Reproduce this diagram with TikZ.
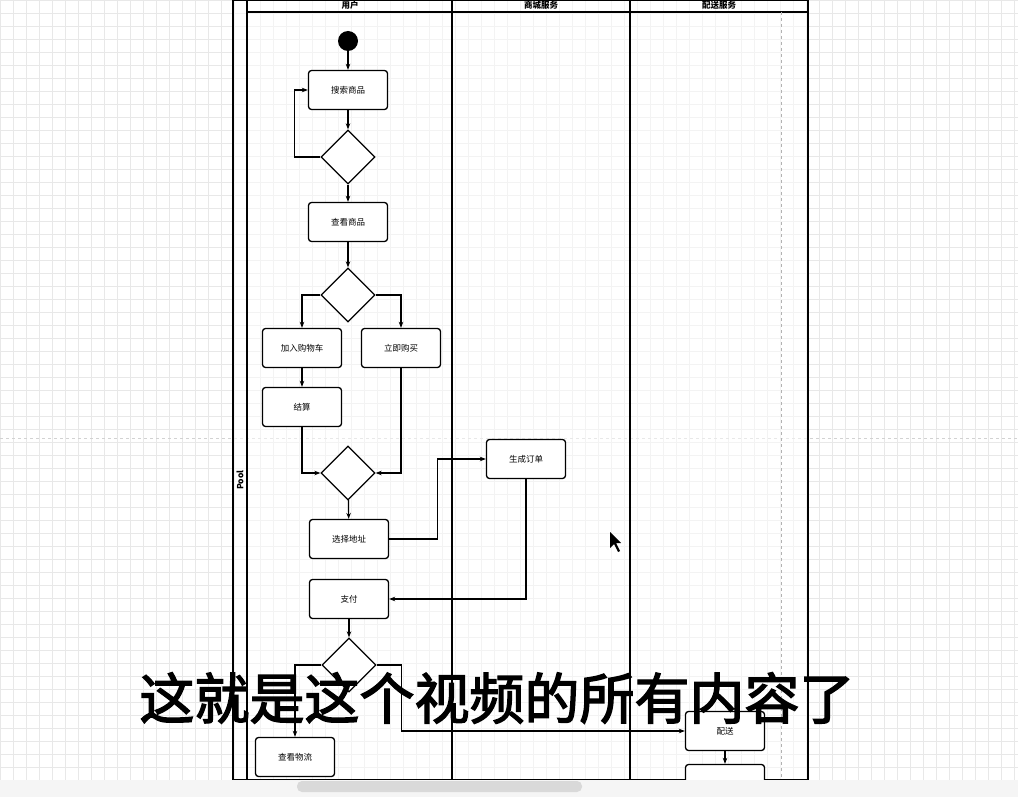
\documentclass[tikz,border=0pt]{standalone}
\usepackage{fontspec}
\newfontfamily\cjk{Noto Sans CJK SC}
\newfontfamily\cjkheavy[FakeBold=2.5]{Noto Sans CJK SC}
\usetikzlibrary{shapes.geometric,arrows.meta}

\tikzset{%
  every act/.style={
    rectangle, rounded corners=3pt, draw, line width=1.3pt, fill=white,
    minimum width=79pt, minimum height=39pt, font=\cjk\fontsize{8.5}{9}\selectfont
  },
  every choice/.style={
    diamond, draw, line width=1.3pt, fill=white, inner sep=0pt,
    minimum width=54pt, minimum height=54pt
  },
  lane title/.style={font=\cjk\bfseries\fontsize{8.5}{9}\selectfont},
  flow/.style={line width=1.2pt, -{Stealth[length=6pt]}},
}

\begin{document}
\begin{tikzpicture}[x=1pt, y=-1pt]
\useasboundingbox (0,0) rectangle (1018,797);
\fill[white] (0,0) rectangle (1018,797);
\draw[gray!18, step=13pt] (0,0) grid (1018,797);
\draw[gray!35, dashed] (0,438) -- (1018,438);

% pool and lanes
\fill[white, opacity=0.5] (233,0) rectangle (808,780);
\draw[line width=1.3pt] (233,0) rectangle (808,780);
\draw[line width=1.3pt] (247,0) -- (247,780);
\draw[line width=1.3pt] (247,12) -- (808,12);
\foreach \x in {452,630}
  \draw[line width=1.3pt] (\x,0) -- (\x,780);
\draw[gray!60, dashed] (781,12) -- (781,780);
\node[lane title, rotate=90] (pool) at (240,480) {Pool};
\foreach \l/\x in {用户/350, 商城服务/541, 配送服务/719}
  \node[lane title] at (\x,5) {\l};

% nodes
\node[circle, fill=black, minimum size=20pt, inner sep=0pt] (start) at (348,41) {};
\node[every act] (search) at (348,90) {搜索商品};
\node[every choice] (c1) at (348,157) {};
\node[every act] (view) at (348,222) {查看商品};
\node[every choice] (c2) at (348,295) {};
\node[every act] (cart) at (302,348) {加入购物车};
\node[every act] (buy) at (401,348) {立即购买};
\node[every act] (settle) at (302,407) {结算};
\node[every choice] (c3) at (348,473) {};
\node[every act] (addr) at (349,539) {选择地址};
\node[every act] (order) at (526,459) {生成订单};
\node[every act] (pay) at (349,599) {支付};
\node[every choice] (c4) at (349,665) {};
\node[every act] (track) at (295,757) {查看物流};
\node[every act] (ship) at (725,731) {配送};
\node[every act] (sign) at (725,784) {};

% connectors
\draw[flow] (start) -- (search);
\draw[flow] (search) -- (c1);
\draw[flow] (c1.west) -- ++(-26,0) |- (search.west);
\draw[flow] (c1) -- (view);
\draw[flow] (view) -- (c2);
\draw[flow] (c2.west) -| (cart.north);
\draw[flow] (c2.east) -| (buy.north);
\draw[flow] (cart) -- (settle);
\draw[flow] (settle.south) |- (c3.west);
\draw[flow] (buy.south) |- (c3.east);
\draw[flow] (c3) -- (addr);
\draw[flow] (addr.east) -- ++(48,0) |- (order.west);
\draw[flow] (order.south) |- (pay.east);
\draw[flow] (pay) -- (c4);
\draw[flow] (c4.west) -| (track.north);
\draw[flow] (c4.east) -- ++(25,0) |- (ship.west);
\draw[flow] (ship) -- (sign);

% cursor
\fill[black] (610,532) -- (610,548) -- (614,544) -- (618,552) -- (620,551) -- (616,543) -- (621,543) -- cycle;

% bottom bar
\fill[gray!8] (0,780) rectangle (1018,797);
\fill[gray!30, rounded corners=5pt] (297,781) rectangle (582,792);

% subtitle
\node[font=\cjkheavy\fontsize{55}{58}\selectfont, text=black] (caption) at (497,698) {这就是这个视频的所有内容了};
\end{tikzpicture}
\end{document}
